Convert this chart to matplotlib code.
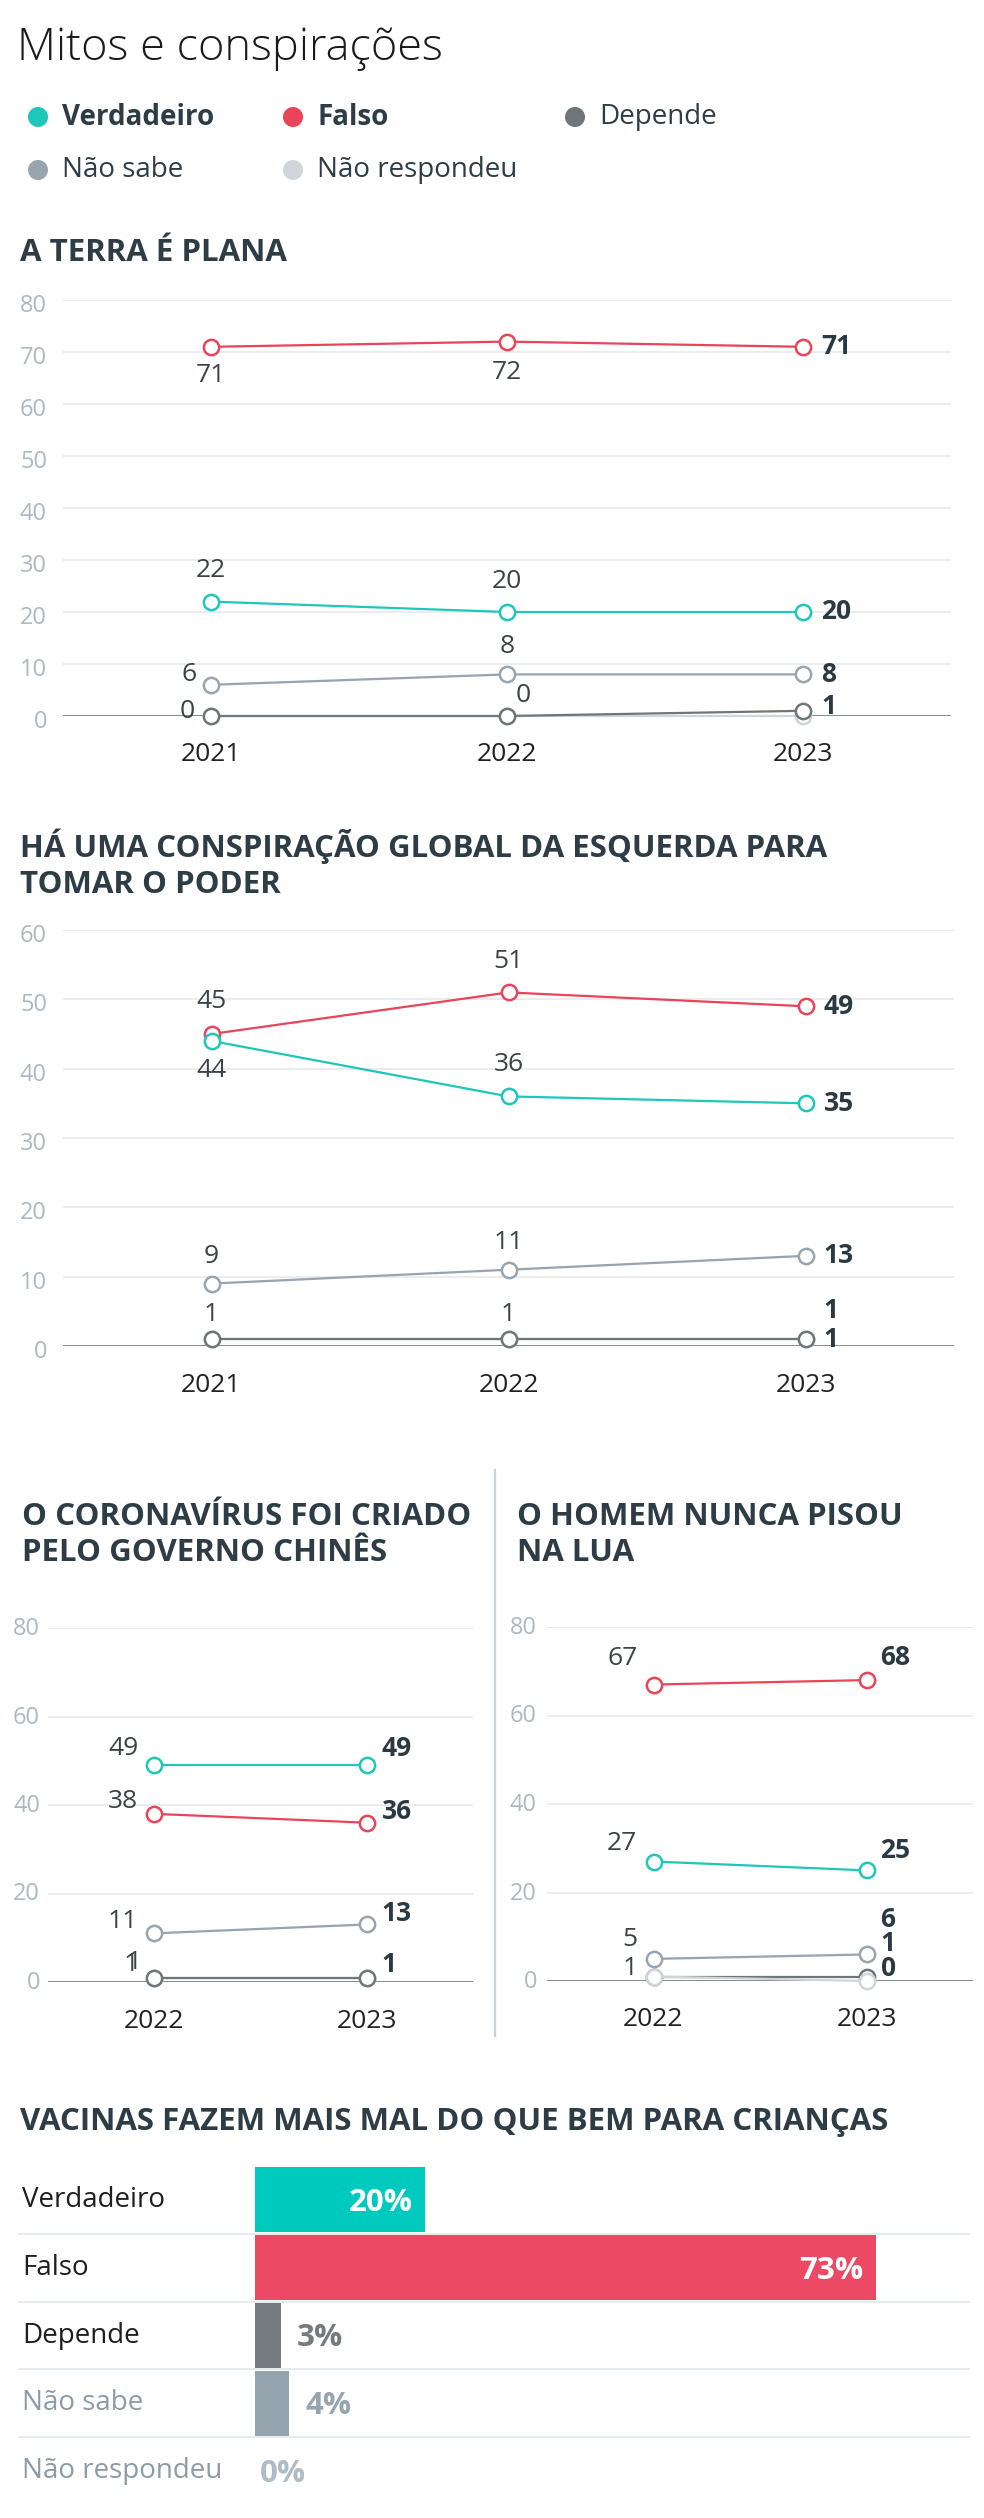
import matplotlib
matplotlib.use('Agg')
import matplotlib.pyplot as plt
from matplotlib.patches import Circle

plt.rcParams['font.family'] = ['Open Sans', 'DejaVu Sans']

W, H = 984, 2518

names = ['Verdadeiro', 'Falso', 'Depende', 'Não sabe', 'Não respondeu']
line_colors = ['#1ec7b8', '#ea4459', '#6f7678', '#98a4ae', '#cfd5db']

# A Terra é plana
terra_years = [2021, 2022, 2023]
terra_verdadeiro = [22, 20, 20]
terra_falso = [71, 72, 71]
terra_depende = [0, 0, 1]
terra_nao_sabe = [6, 8, 8]
terra_nao_resp = [0, 0, 0]

# Conspiracao global da esquerda
esq_years = [2021, 2022, 2023]
esq_verdadeiro = [44, 36, 35]
esq_falso = [45, 51, 49]
esq_depende = [1, 1, 1]
esq_nao_sabe = [9, 11, 13]
esq_nao_resp = [1, 1, 1]

# Coronavirus criado pela China
corona_years = [2022, 2023]
corona_verdadeiro = [49, 49]
corona_falso = [38, 36]
corona_depende = [1, 1]
corona_nao_sabe = [11, 13]
corona_nao_resp = [1, 1]

# Homem nunca pisou na lua
lua_years = [2022, 2023]
lua_verdadeiro = [27, 25]
lua_falso = [67, 68]
lua_depende = [1, 1]
lua_nao_sabe = [5, 6]
lua_nao_resp = [1, 0]

# Vacinas
vac_cats = ['Verdadeiro', 'Falso', 'Depende', 'Não sabe', 'Não respondeu']
vac_values = [20, 73, 3, 4, 0]
vac_colors = ['#00c9bd', '#ec4a64', '#737b7e', '#94a3ae', '#c9d1d8']

# label placement (series, index, dx px, dy px (down), ha)
terra_labels = [('Falso', 0, 0, 29, 'center'), ('Falso', 1, 0, 31, 'center'),
                ('Verdadeiro', 0, 0, -31, 'center'), ('Verdadeiro', 1, 0, -30, 'center'),
                ('Não sabe', 0, -22, -10, 'center'), ('Não sabe', 1, 0, -28, 'center'),
                ('Depende', 0, -24, -4, 'center'), ('Depende', 1, 16, -20, 'center'),
                ('Falso', 2, 18, 0, 'left'), ('Verdadeiro', 2, 18, 0, 'left'),
                ('Não sabe', 2, 18, 0, 'left'), ('Depende', 2, 18, -4, 'left')]
esq_labels = [('Falso', 0, 0, -32, 'center'), ('Falso', 1, 0, -31, 'center'),
              ('Verdadeiro', 0, 0, 30, 'center'), ('Verdadeiro', 1, 0, -32, 'center'),
              ('Não sabe', 0, 0, -27, 'center'), ('Não sabe', 1, 0, -27, 'center'),
              ('Depende', 0, 0, -25, 'center'), ('Depende', 1, 0, -25, 'center'),
              ('Falso', 2, 18, 0, 'left'), ('Verdadeiro', 2, 18, 0, 'left'),
              ('Não sabe', 2, 18, 0, 'left'), ('Depende', 2, 18, 0, 'left'),
              ('Não respondeu', 2, 18, -29, 'left')]
corona_labels = [('Verdadeiro', 0, -16, -17, 'right'), ('Falso', 0, -16, -12, 'right'),
                 ('Não sabe', 0, -16, -12, 'right'), ('Depende', 0, -16, -13, 'right'),
                 ('Não respondeu', 0, -13, -15, 'right'),
                 ('Verdadeiro', 1, 15, -17, 'left'), ('Falso', 1, 15, -11, 'left'),
                 ('Não sabe', 1, 15, -11, 'left'), ('Depende', 1, 15, -13, 'left')]
lua_labels = [('Falso', 0, -16, -26, 'right'), ('Verdadeiro', 0, -16, -18, 'right'),
              ('Não sabe', 0, -16, -19, 'right'), ('Não respondeu', 0, -16, -8, 'right'),
              ('Falso', 1, 14, -23, 'left'), ('Verdadeiro', 1, 14, -20, 'left'),
              ('Não sabe', 1, 14, -35, 'left'), ('Depende', 1, 14, -33, 'left'),
              ('Não respondeu', 1, 14, -12, 'left')]

order_a = ['Não respondeu', 'Depende', 'Não sabe', 'Falso', 'Verdadeiro']
order_b = ['Depende', 'Não respondeu', 'Não sabe', 'Falso', 'Verdadeiro']

PT = 0.72  # points per pixel at dpi 100
TITLE_C = '#2e3d45'

fig = plt.figure(figsize=(W / 100, H / 100), dpi=100)
bg = fig.add_axes([0, 0, 1, 1])
bg.set_xlim(0, W)
bg.set_ylim(H, 0)
bg.axis('off')


def px_axes(x0, y0, x1, y1):
    return fig.add_axes([x0 / W, 1 - y1 / H, (x1 - x0) / W, (y1 - y0) / H])


def title(x, y, lines):
    for i, line in enumerate(lines):
        bg.text(x, y + i * 36, line, fontsize=22.5, fontweight='bold',
                color=TITLE_C, va='baseline', ha='left')


def line_chart(ax, years, values, yticks, tick_pad, tick_dy, labels, order):
    series = dict(zip(names, values))
    colors = dict(zip(names, line_colors))
    ax.set_xlim(years[0] - 0.5, years[-1] + 0.5)
    ax.set_ylim(0, yticks[-1])
    ax.axis('off')
    for t in yticks:
        ax.axhline(t, color='#737879' if t == 0 else '#e6e9ec', lw=1.2, zorder=1)
        ax.annotate(str(t), xy=(0, t), xycoords=('axes fraction', 'data'),
                    xytext=(-tick_pad * PT, -tick_dy * PT), textcoords='offset points',
                    ha='right', va='center', fontsize=17, color='#aeb8c0')
    for y in years:
        ax.annotate(str(y), xy=(y, 0), xytext=(0, -39 * PT), textcoords='offset points',
                    ha='center', va='center', fontsize=19, color='#222222',
                    annotation_clip=False)
    for z, key in enumerate(order):
        c = colors[key]
        ax.plot(years, series[key], color=c, lw=1.6, marker='o', ms=11,
                mfc='white', mec=c, mew=1.8, clip_on=False, zorder=3 + z)
    for key, i, dx, dy, ha in labels:
        last = i == len(years) - 1
        ax.annotate(str(series[key][i]), xy=(years[i], series[key][i]),
                    xytext=(dx * PT, -dy * PT), textcoords='offset points',
                    ha=ha, va='center', fontsize=19,
                    fontweight='bold' if last else 'normal',
                    color='#2b3a42' if last else '#3c4247',
                    annotation_clip=False, zorder=10)


# header
bg.text(17, 60, 'Mitos e conspirações', fontsize=32.5, fontweight='light',
        color='#1a1a1a', va='baseline', ha='left')
legend_pos = [(38, 117), (293, 117), (575, 117), (38, 170), (293, 170)]
for (x, y), name, c in zip(legend_pos, names, line_colors):
    bg.add_patch(Circle((x, y), 10, color=c, lw=0))
    bg.text(x + 24, y, name, fontsize=20, va='center', ha='left', color=TITLE_C,
            fontweight='bold' if name in ('Verdadeiro', 'Falso') else 'normal')

# chart 1
title(20, 261, ['A TERRA É PLANA'])
ax1 = px_axes(63, 300, 951, 716)
line_chart(ax1, terra_years,
           [terra_verdadeiro, terra_falso, terra_depende, terra_nao_sabe, terra_nao_resp],
           list(range(0, 81, 10)), 16, 6, terra_labels, order_a)

# chart 2
title(20, 857, ['HÁ UMA CONSPIRAÇÃO GLOBAL DA ESQUERDA PARA', 'TOMAR O PODER'])
ax2 = px_axes(63, 930, 954, 1346)
line_chart(ax2, esq_years,
           [esq_verdadeiro, esq_falso, esq_depende, esq_nao_sabe, esq_nao_resp],
           list(range(0, 61, 10)), 16, 6, esq_labels, order_a)

# chart 3 and 4
title(22, 1525, ['O CORONAVÍRUS FOI CRIADO', 'PELO GOVERNO CHINÊS'])
ax3 = px_axes(48, 1628, 473, 1982)
line_chart(ax3, corona_years,
           [corona_verdadeiro, corona_falso, corona_depende, corona_nao_sabe, corona_nao_resp],
           list(range(0, 81, 20)), 8, 1, corona_labels, order_a)

title(517, 1525, ['O HOMEM NUNCA PISOU', 'NA LUA'])
ax4 = px_axes(547, 1627, 973, 1981)
line_chart(ax4, lua_years,
           [lua_verdadeiro, lua_falso, lua_depende, lua_nao_sabe, lua_nao_resp],
           list(range(0, 81, 20)), 10, 1, lua_labels, order_b)

bg.plot([495, 495], [1470, 2036], color='#cdd2d6', lw=1.6)

# bar chart
title(20, 2130, ['VACINAS FAZEM MAIS MAL DO QUE BEM PARA CRIANÇAS'])
ax5 = px_axes(18, 2166, 970, 2505)
scale = 8.5  # px per percent
ax5.set_xlim(-(255 - 18) / scale, (970 - 255) / scale)
ax5.set_ylim(len(vac_cats) - 0.5, -0.5)
ax5.axis('off')
rows = list(range(len(vac_cats)))
for y in rows[:-1]:
    ax5.axhline(y + 0.5, color='#e4e7ea', lw=1.2, zorder=0)
ax5.barh(rows, vac_values, height=0.96, color=vac_colors, zorder=2)
cat_colors = ['#1f1f1f', '#1f1f1f', '#1f1f1f', '#8d9ba6', '#8d9ba6']
val_colors = ['white', 'white', '#737b7e', '#97a5b0', '#b0bcc5']
for y, cat, v, cc, vc in zip(rows, vac_cats, vac_values, cat_colors, val_colors):
    ax5.text(4 / 952, y, cat, transform=ax5.get_yaxis_transform(), fontsize=20,
             color=cc, va='center', ha='left')
    if v > 10:
        ax5.annotate(f'{v}%', xy=(v, y), xytext=(-12 * PT, -3 * PT),
                     textcoords='offset points', ha='right', va='center',
                     fontsize=22.5, fontweight='bold', color=vc, zorder=5)
    else:
        off = 16 if v > 0 else 5
        ax5.annotate(f'{v}%', xy=(v, y), xytext=(off * PT, -3 * PT),
                     textcoords='offset points', ha='left', va='center',
                     fontsize=22.5, fontweight='bold', color=vc, zorder=5)

fig.savefig('out.png', dpi=100, facecolor='white')
